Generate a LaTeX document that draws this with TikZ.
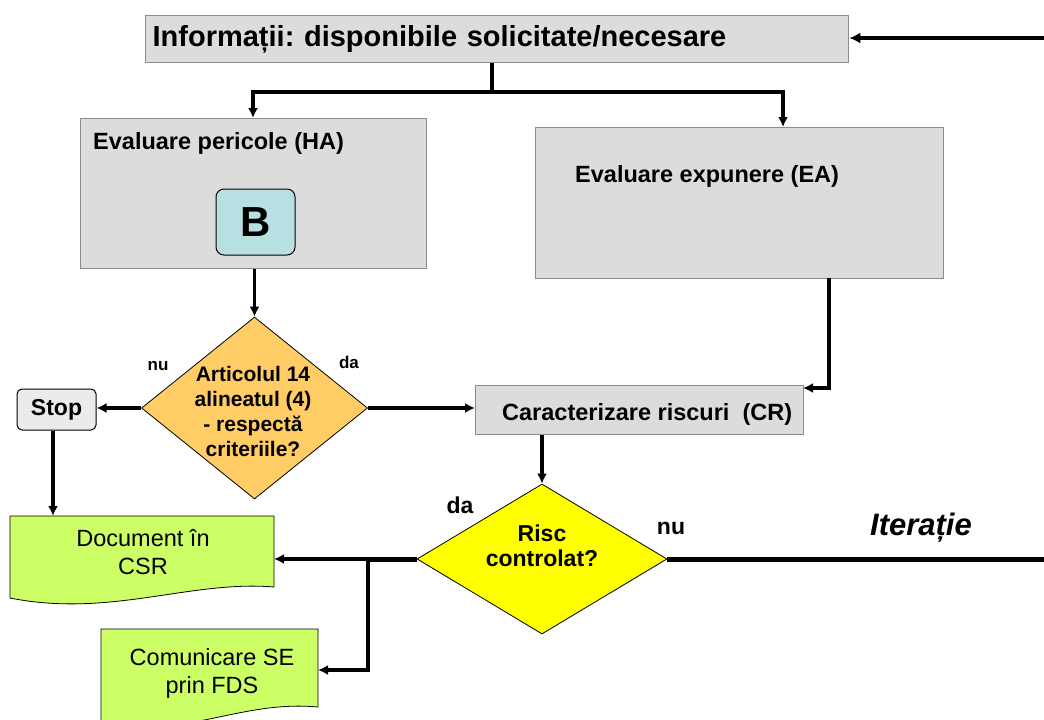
\documentclass[tikz,border=0pt]{standalone}
\usepackage{fontspec}
\setmainfont{Liberation Sans}
\usetikzlibrary{arrows.meta,shapes.geometric}
\definecolor{boxgray}{HTML}{DCDCDC}
\definecolor{boxedge}{HTML}{8C8C8C}
\definecolor{bfill}{HTML}{B8E0E2}
\definecolor{stopfill}{HTML}{EBEBEB}
\definecolor{orangefill}{HTML}{FFCC66}
\definecolor{yellowfill}{HTML}{FFFF00}
\definecolor{greenfill}{HTML}{CCFF66}
\frenchspacing
\begin{document}
\begin{tikzpicture}[x=1pt,y=-1pt,
  gbox/.style={draw=boxedge,fill=boxgray,line width=1.3pt,inner sep=0pt},
  bboxstyle/.style={draw=black,fill=bfill,line width=1pt,rounded corners=8pt,inner sep=0pt,
     font=\fontsize{42}{46}\selectfont\bfseries},
  stopstyle/.style={draw=black,fill=stopfill,line width=1pt,rounded corners=5pt,inner sep=0pt,
     font=\fontsize{23}{27}\selectfont\bfseries},
  decision/.style={diamond,draw=black,line width=0.8pt,inner sep=0pt,shape aspect=1},
  greenshape/.style={draw=black,fill=greenfill,line width=0.8pt},
  boldtxt/.style={inner sep=0pt,font=\fontsize{23.5}{28}\selectfont\bfseries},
  regtxt/.style={inner sep=0pt,align=center,font=\fontsize{23.5}{28}\selectfont},
  smalllbl/.style={inner sep=0pt,font=\fontsize{17}{20}\selectfont\bfseries},
  biglbl/.style={inner sep=0pt,font=\fontsize{23}{27}\selectfont\bfseries},
  conn/.style={line width=3.5pt,-{Latex[length=10pt,width=10pt]}},
  connplain/.style={line width=3.5pt},
  thick5/.style={line width=5pt},
]
\useasboundingbox (0,0) rectangle (1044,720);

% top box
\node[gbox,anchor=north west,minimum height=47pt,text width=689pt,inner xsep=7pt,align=left,
      font=\fontsize{29}{33}\selectfont\bfseries] (info) at (145,15)
      {Informații: disponibile solicitate/necesare};

% HA box
\node[gbox,anchor=north west,minimum width=346pt,minimum height=150pt] (ha) at (80,118) {};
\node[boldtxt,anchor=base west] (hatxt) at (93,149) {Evaluare pericole (HA)};
\node[bboxstyle,minimum width=79pt,minimum height=66pt] (b) at (255.5,222) {B};

% EA box
\node[gbox,anchor=north west,minimum width=408pt,minimum height=151pt] (ea) at (535,127) {};
\node[boldtxt,anchor=base west] (eatxt) at (575,182) {Evaluare expunere (EA)};

% decision 1
\node[decision,fill=orangefill,minimum width=226pt,minimum height=182pt] (d1) at (254.5,408) {};
\node[inner sep=0pt,align=center,font=\fontsize{21}{25}\selectfont\bfseries] (d1txt) at (253,411)
  {Articolul 14\\alineatul (4)\\- respectă\\criteriile?};
\node[smalllbl] (nu1) at (158,366) {nu};
\node[smalllbl] (da1) at (349,362) {da};

% stop
\node[stopstyle,minimum width=79pt,minimum height=41pt] (stop) at (56.5,409.5) {Stop};

% CR box
\node[gbox,anchor=north west,minimum width=328pt,minimum height=49pt] (cr) at (475,385) {};
\node[boldtxt,anchor=base west] (crtxt) at (502,420) {Caracterizare riscuri~ (CR)};

% decision 2
\node[decision,fill=yellowfill,minimum width=250pt,minimum height=150pt] (d2) at (542,559) {};
\node[inner sep=0pt,align=center,font=\fontsize{23}{25}\selectfont\bfseries] (d2txt) at (542,546)
  {Risc\\controlat?};
\node[biglbl] (da2) at (460,505) {da};
\node[biglbl] (nu2) at (671,528) {nu};
\node[inner sep=0pt,font=\fontsize{31}{35}\selectfont\bfseries\itshape,anchor=base] (iter) at (921,535) {Iterație};

% document shapes
\draw[greenshape] (10,516) -- (274,516) -- (274,587)
   .. controls (190,580) and (110,618) .. (10,598) -- cycle;
\node[regtxt] (doctxt) at (143,552) {Document în\\CSR};
\coordinate (docR) at (274,561);
\coordinate (docT) at (53,516);

\draw[greenshape] (101,629) -- (318,629) -- (318,707)
   .. controls (240,700) and (190,738) .. (101,724) -- cycle;
\node[regtxt] (comtxt) at (212,673) {Comunicare SE\\prin FDS};
\coordinate (comR) at (318,670);

% connectors
\coordinate (rin) at (1044,38);
\draw[line width=4.5pt,-{Latex[length=11pt,width=11pt]}] (rin) -- (info.east |- rin);

\coordinate (jtop) at (492,92);
\coordinate (jl) at (253,92);
\coordinate (jr) at (783,92);
\draw[connplain] (jtop |- info.south) -- (jtop);
\draw[conn] (jtop) -- (jl) -- (jl |- ha.north);
\draw[conn] (jtop) -- (jr) -- (jr |- ea.north);

\draw[conn] (d1.north |- ha.south) -- (d1.north);
\draw[conn] (d1.west) -- (stop.east |- d1.west);
\draw[conn] (d1.east) -- (cr.west |- d1.east);

\coordinate (eaout) at (829,278);
\coordinate (crin) at (803,388);
\draw[conn] (eaout) |- (crin);

\draw[conn] (d2.north |- cr.south) -- (d2.north);

\coordinate (j3) at (368,559);
\draw[thick5] (d2.west) -- (j3);
\draw[conn] (j3) -- (docR |- j3);
\draw[conn] (j3) |- (comR);

\draw[conn] (docT |- stop.south) -- (docT);

\coordinate (iterEnd) at (1044,559);
\draw[thick5] (d2.east) -- (iterEnd);
\end{tikzpicture}
\end{document}
